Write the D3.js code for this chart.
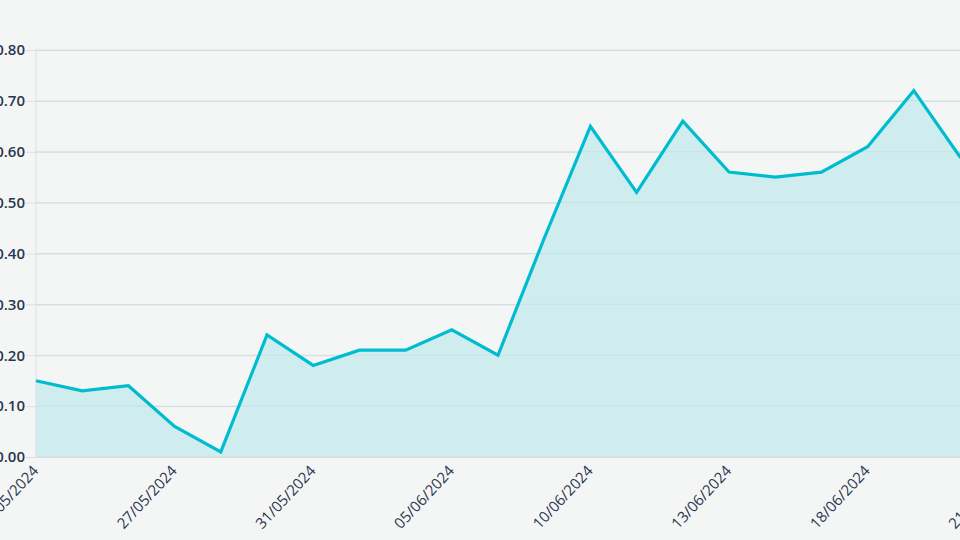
<!DOCTYPE html>
<html>
<head>
<meta charset="utf-8">
<script src="https://cdn.jsdelivr.net/npm/d3@7"></script>
<style>
  html, body { margin: 0; padding: 0; background: #f4f6f6; overflow: hidden; }
  svg { display: block; }
  text { font-family: "Open Sans", sans-serif; fill: #2b3650; }
</style>
</head>
<body>
<svg id="chart" width="960" height="540"></svg>
<script>
const dates = ["22/05/2024","23/05/2024","24/05/2024","27/05/2024","28/05/2024","29/05/2024",
  "31/05/2024","03/06/2024","04/06/2024","05/06/2024","06/06/2024","07/06/2024",
  "10/06/2024","11/06/2024","12/06/2024","13/06/2024","14/06/2024","17/06/2024",
  "18/06/2024","19/06/2024","20/06/2024","21/06/2024"];
const values = [0.15,0.13,0.14,0.06,0.01,0.24,0.18,0.21,0.21,0.25,0.20,0.43,
  0.65,0.52,0.66,0.56,0.55,0.56,0.61,0.72,0.59,0.52];
const yTicks = [0,0.1,0.2,0.3,0.4,0.5,0.6,0.7,0.8];
const labelEvery = 3;

(function () {
const svg = d3.select("#chart");
const mLeft = 36, mTop = 50, mBottom = 457, step = 46.2;
const x = d3.scalePoint().domain(dates).range([mLeft, mLeft + step * (dates.length - 1)]);
const y = d3.scaleLinear().domain([0, 0.8]).range([mBottom, mTop]);
const data = dates.map((d, i) => ({d, v: values[i]}));

// grid + y labels
const yAxis = d3.axisLeft(y).tickValues(yTicks).tickFormat(d3.format(".2f"))
  .tickSize(0).tickPadding(11);
const gy = svg.append("g").attr("transform", `translate(${mLeft},0)`).call(yAxis);
gy.select(".domain").remove();
gy.selectAll(".tick").append("line").attr("stroke", "#dcdfe0").attr("x1", -10).attr("x2", 1100);
gy.selectAll(".tick text").attr("font-size", 15).attr("font-weight", 600);

// area
svg.append("path").datum(data)
  .attr("fill", "#cfedee")
  .attr("d", d3.area().x(d => x(d.d)).y0(y(0)).y1(d => y(d.v)));

// grid over area
svg.append("g").selectAll("line").data(yTicks.slice(1)).join("line")
  .attr("x1", mLeft).attr("x2", 1100)
  .attr("y1", d => y(d)).attr("y2", d => y(d))
  .attr("stroke", "#bcd9da").attr("stroke-opacity", 0.5);

// axis lines
svg.append("line").attr("x1", mLeft).attr("x2", mLeft).attr("y1", mTop).attr("y2", mBottom)
  .attr("stroke", "#dcdfe0");
svg.append("line").attr("x1", mLeft).attr("x2", 1100).attr("y1", mBottom).attr("y2", mBottom)
  .attr("stroke", "#d3dadb");

// line
svg.append("path").datum(data)
  .attr("fill", "none").attr("stroke", "#00bccf").attr("stroke-width", 3.2)
  .attr("stroke-linejoin", "miter")
  .attr("d", d3.line().x(d => x(d.d)).y(d => y(d.v)));

// x axis labels
const xAxis = d3.axisBottom(x).tickValues(dates.filter((d, i) => i % labelEvery === 0)).tickSize(0);
const gx = svg.append("g").attr("transform", `translate(0,${mBottom})`).call(xAxis);
gx.select(".domain").remove();
gx.selectAll(".tick text")
  .attr("font-size", 15)
  .attr("text-anchor", "end")
  .attr("transform", "translate(-1,11) rotate(-47)")
  .attr("x", 0).attr("y", 0).attr("dy", "0.35em");
})();
</script>
</body>
</html>
